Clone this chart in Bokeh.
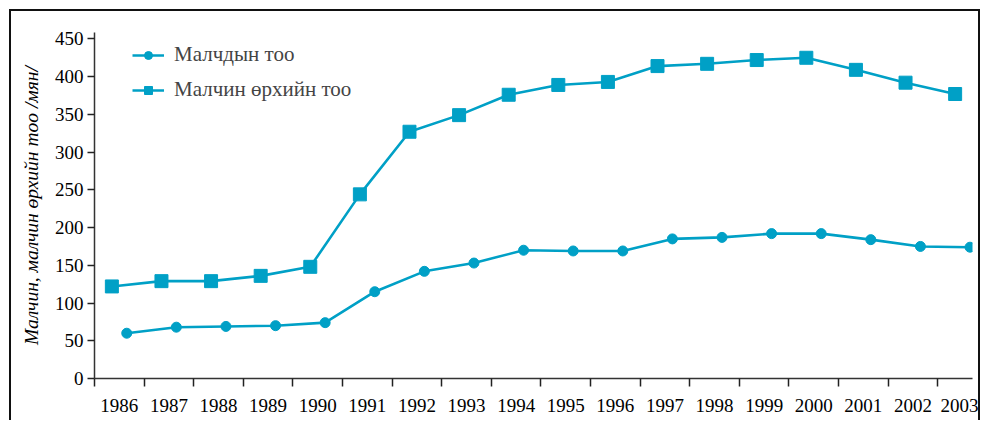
from bokeh.plotting import figure
from bokeh.models import FixedTicker, Legend, LegendItem, Range1d, CustomJSTickFormatter
from bokeh.embed import file_html
from bokeh.resources import INLINE

# ---- data ----
years = list(range(1986, 2004))
herders = [60, 68, 69, 70, 74, 115, 142, 153, 170, 169, 169, 185, 187, 192, 192, 184, 175, 174]
households = [122, 129, 129, 136, 148, 244, 327, 349, 376, 389, 393, 414, 417, 422, 425, 409, 392, 377]
series_names = ["Малчдын тоо", "Малчин өрхийн тоо"]
y_ticks = [0, 50, 100, 150, 200, 250, 300, 350, 400, 450]
y_title = "Малчин, малчин өрхийн тоо /мян/"

COLOR = "#00a0c6"
FONT = "Liberation Serif"

centers = [y + 0.5 for y in years]
x_herders = [c + 0.15 for c in centers]
x_households = [c - 0.15 for c in centers]

p = figure(width=971, height=411, output_backend="svg", toolbar_location=None,
           x_range=Range1d(1986, 2003.7), y_range=Range1d(0, 458.5),
           min_border_left=83, min_border_top=21, min_border_bottom=44, min_border_right=10)
p.styles = {"margin-left": "9px", "margin-top": "9px",
            "border-top": "2px solid #111", "border-left": "2px solid #111",
            "border-right": "2px solid #111"}
p.outline_line_color = None
p.xgrid.grid_line_color = None
p.ygrid.grid_line_color = None

l1 = p.line(x_herders, herders, line_color=COLOR, line_width=2.6)
s1 = p.scatter(x_herders, herders, marker="circle", size=10, fill_color=COLOR, line_color=COLOR)
l2 = p.line(x_households, households, line_color=COLOR, line_width=2.6)
s2 = p.scatter(x_households, households, marker="square", size=13, fill_color=COLOR, line_color=COLOR)

# x axis
xa = p.xaxis[0]
xa.ticker = FixedTicker(ticks=centers, minor_ticks=years)
xa.formatter = CustomJSTickFormatter(code="return (tick - 0.5).toFixed(0)")
xa.major_tick_in = 0
xa.major_tick_out = 0
xa.minor_tick_in = 0
xa.minor_tick_out = 8
xa.minor_tick_line_color = "#222"
xa.minor_tick_line_width = 1.5
xa.major_label_standoff = 12
xa.axis_line_color = "#333"
xa.axis_line_width = 1.5
xa.major_label_text_font = FONT
xa.major_label_text_font_size = "19px"
xa.major_label_text_color = "black"

# y axis
ya = p.yaxis[0]
ya.ticker = FixedTicker(ticks=y_ticks)
ya.major_tick_in = 0
ya.major_tick_out = 7
ya.minor_tick_line_color = None
ya.major_tick_line_color = "#222"
ya.major_tick_line_width = 1.5
ya.axis_line_color = "#333"
ya.axis_line_width = 1.5
ya.major_label_standoff = 4
ya.major_label_text_font = FONT
ya.major_label_text_font_size = "19px"
ya.major_label_text_color = "black"
ya.axis_label = y_title
ya.axis_label_text_font = FONT
ya.axis_label_text_font_style = "italic"
ya.axis_label_text_font_size = "19.5px"
ya.axis_label_text_color = "black"
ya.axis_label_standoff = 10

legend = Legend(items=[LegendItem(label=series_names[0], renderers=[l1, s1]),
                       LegendItem(label=series_names[1], renderers=[l2, s2])],
                location=(38, 276))
legend.border_line_color = None
legend.background_fill_alpha = 0
legend.label_text_font = FONT
legend.label_text_font_size = "21px"
legend.glyph_width = 32
legend.glyph_height = 20
legend.label_height = 20
legend.label_standoff = 10
legend.spacing = 10
legend.padding = 0
legend.margin = 0
p.add_layout(legend)

open("out.html", "w").write(file_html(p, INLINE))
